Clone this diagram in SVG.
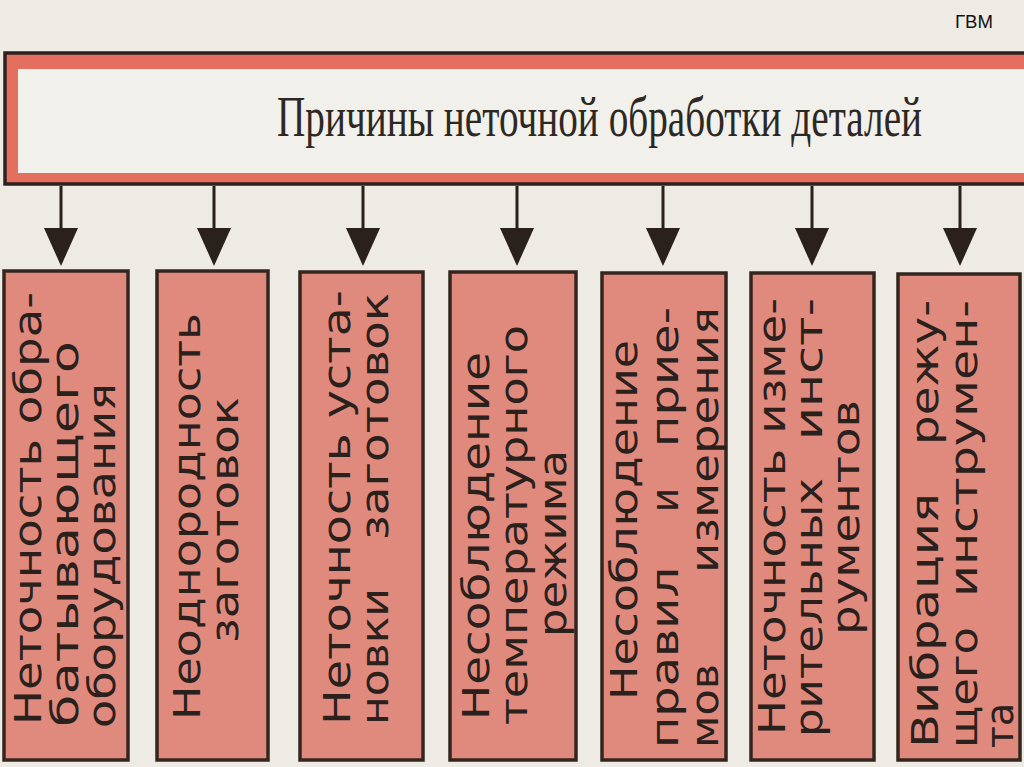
<svg xmlns="http://www.w3.org/2000/svg" width="1024" height="767" viewBox="0 0 1024 767">
<defs>
<style>
.box{fill:#E08A7E;stroke:#34261f;stroke-width:3.5}
.lbl{font-family:"DejaVu Sans","Liberation Sans",sans-serif;font-size:38px;fill:#2a201c}
.conn line{stroke:#2a201c;stroke-width:3}
.conn polygon{fill:#2a201c}
</style>
</defs>
<rect x="0" y="0" width="1024" height="767" fill="#EDEBE4"/>
<text x="955" y="28" font-family="Liberation Sans, sans-serif" font-size="19" fill="#111" textLength="38" lengthAdjust="spacingAndGlyphs">ГВМ</text>

<g id="title">
<rect x="5" y="53" width="1030" height="131" fill="#E46F5F" stroke="#2b211e" stroke-width="3.5"/>
<rect x="18" y="69" width="1020" height="104" fill="#F2F0EA"/>
<text transform="translate(277,136) scale(0.72,1)" font-family="Liberation Serif, serif" font-size="58" fill="#2e2824" textLength="896" lengthAdjust="spacingAndGlyphs">Причины неточной обработки деталей</text>
</g>

<g id="connectors" class="conn">
<line x1="61" y1="186" x2="61" y2="230"/><polygon points="44,228 78,228 61,266"/>
<line x1="214" y1="186" x2="214" y2="230"/><polygon points="197,228 231,228 214,266"/>
<line x1="363" y1="186" x2="363" y2="230"/><polygon points="346,228 380,228 363,266"/>
<line x1="517" y1="186" x2="517" y2="230"/><polygon points="500,228 534,228 517,266"/>
<line x1="663" y1="186" x2="663" y2="230"/><polygon points="646,228 680,228 663,266"/>
<line x1="812" y1="186" x2="812" y2="230"/><polygon points="795,228 829,228 812,266"/>
<line x1="960" y1="186" x2="960" y2="230"/><polygon points="943,228 977,228 960,266"/>
</g>

<g id="n1">
<rect class="box" x="4" y="271" width="124" height="489"/>
<text class="lbl" transform="translate(41,725) rotate(-90)" textLength="433" lengthAdjust="spacingAndGlyphs">Неточность обра-</text>
<text class="lbl" transform="translate(78,727) rotate(-90)" textLength="386" lengthAdjust="spacingAndGlyphs">батывающего</text>
<text class="lbl" transform="translate(115,728) rotate(-90)" textLength="345" lengthAdjust="spacingAndGlyphs">оборудования</text>
</g>

<g id="n2">
<rect class="box" x="157" y="271" width="111" height="489"/>
<text class="lbl" transform="translate(200,720) rotate(-90)" textLength="407" lengthAdjust="spacingAndGlyphs">Неоднородность</text>
<text class="lbl" transform="translate(238,643) rotate(-90)" textLength="246" lengthAdjust="spacingAndGlyphs">заготовок</text>
</g>

<g id="n3">
<rect class="box" x="300" y="272" width="123" height="488"/>
<text class="lbl" transform="translate(350,725) rotate(-90)" textLength="435" lengthAdjust="spacingAndGlyphs">Неточность уста-</text>
<text class="lbl" transform="translate(388,725) rotate(-90)" textLength="137" lengthAdjust="spacingAndGlyphs">новки</text>
<text class="lbl" transform="translate(388,540) rotate(-90)" textLength="247" lengthAdjust="spacingAndGlyphs">заготовок</text>
</g>

<g id="n4">
<rect class="box" x="450" y="272" width="126" height="488"/>
<text class="lbl" transform="translate(489,720) rotate(-90)" textLength="368" lengthAdjust="spacingAndGlyphs">Несоблюдение</text>
<text class="lbl" transform="translate(527,725) rotate(-90)" textLength="400" lengthAdjust="spacingAndGlyphs">температурного</text>
<text class="lbl" transform="translate(566,637) rotate(-90)" textLength="187" lengthAdjust="spacingAndGlyphs">режима</text>
</g>

<g id="n5">
<rect class="box" x="602" y="273" width="124" height="487"/>
<text class="lbl" transform="translate(637,700) rotate(-90)" textLength="360" lengthAdjust="spacingAndGlyphs">Несоблюдение</text>
<text class="lbl" transform="translate(678,748) rotate(-90)" textLength="181" lengthAdjust="spacingAndGlyphs">правил</text>
<text class="lbl" transform="translate(678,512) rotate(-90)" textLength="24" lengthAdjust="spacingAndGlyphs">и</text>
<text class="lbl" transform="translate(678,447) rotate(-90)" textLength="140" lengthAdjust="spacingAndGlyphs">прие-</text>
<text class="lbl" transform="translate(718,748) rotate(-90)" textLength="84" lengthAdjust="spacingAndGlyphs">мов</text>
<text class="lbl" transform="translate(718,573) rotate(-90)" textLength="266" lengthAdjust="spacingAndGlyphs">измерения</text>
</g>

<g id="n6">
<rect class="box" x="751" y="273" width="123" height="487"/>
<text class="lbl" transform="translate(785,735) rotate(-90)" textLength="437" lengthAdjust="spacingAndGlyphs">Неточность изме-</text>
<text class="lbl" transform="translate(822,737) rotate(-90)" textLength="259" lengthAdjust="spacingAndGlyphs">рительных</text>
<text class="lbl" transform="translate(822,440) rotate(-90)" textLength="142" lengthAdjust="spacingAndGlyphs">инст-</text>
<text class="lbl" transform="translate(859,635) rotate(-90)" textLength="235" lengthAdjust="spacingAndGlyphs">рументов</text>
</g>

<g id="n7">
<rect class="box" x="898" y="274" width="122" height="486"/>
<text class="lbl" transform="translate(938,748) rotate(-90)" textLength="255" lengthAdjust="spacingAndGlyphs">Вибрация</text>
<text class="lbl" transform="translate(938,445) rotate(-90)" textLength="145" lengthAdjust="spacingAndGlyphs">режу-</text>
<text class="lbl" transform="translate(977,748) rotate(-90)" textLength="121" lengthAdjust="spacingAndGlyphs">щего</text>
<text class="lbl" transform="translate(977,597) rotate(-90)" textLength="297" lengthAdjust="spacingAndGlyphs">инструмен-</text>
<text class="lbl" transform="translate(1013,748) rotate(-90)" textLength="45" lengthAdjust="spacingAndGlyphs">та</text>
</g>
</svg>
